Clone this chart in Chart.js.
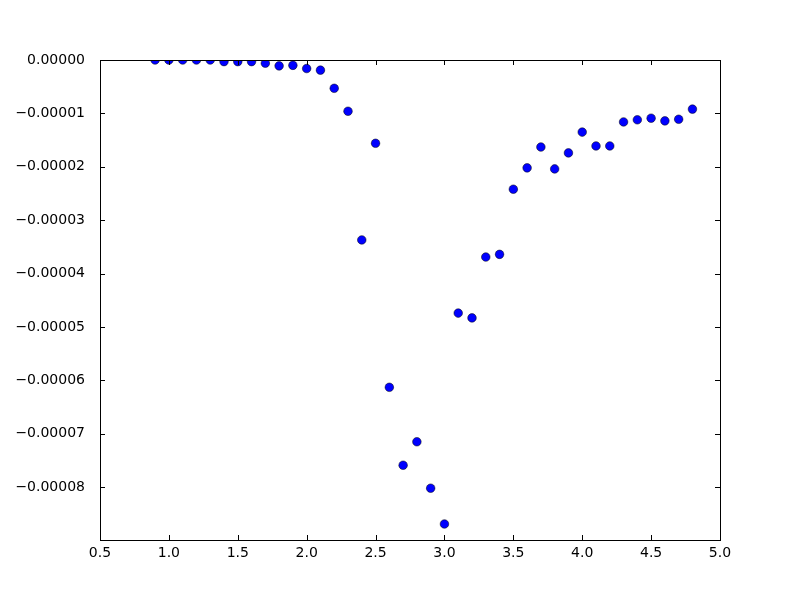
<!DOCTYPE html>
<html>
<head>
<meta charset="utf-8">
<script src="https://cdn.jsdelivr.net/npm/chart.js@4/dist/chart.umd.min.js"></script>
<style>
  html, body { margin: 0; padding: 0; background: #fff; }
  #wrap { width: 800px; height: 600px; }
</style>
</head>
<body>
<div id="wrap"><canvas id="chart" width="800" height="600"></canvas></div>
<script>
var xValues = [0.9,1.0,1.1,1.2,1.3,1.4,1.5,1.6,1.7,1.8,1.9,2.0,2.1,2.2,2.3,2.4,2.5,2.6,2.7,2.8,
               2.9,3.0,3.1,3.2,3.3,3.4,3.5,3.6,3.7,3.8,3.9,4.0,4.1,4.2,4.3,4.4,4.5,4.6,4.7,4.8];
var yValues = [0,0,0,0,0,-0.0000003,-0.0000003,-0.0000003,-0.0000006,-0.0000011,
               -0.0000010,-0.0000016,-0.0000019,-0.0000053,-0.0000096,-0.0000337,-0.0000156,-0.0000613,-0.0000759,-0.0000715,
               -0.0000802,-0.0000869,-0.0000474,-0.0000483,-0.0000369,-0.0000364,-0.0000242,-0.0000202,-0.0000163,-0.0000204,
               -0.0000174,-0.0000135,-0.0000161,-0.0000161,-0.0000116,-0.0000112,-0.0000109,-0.0000114,-0.0000111,-0.0000092];
var xTicks = [0.5,1.0,1.5,2.0,2.5,3.0,3.5,4.0,4.5,5.0];
var yTicks = [0,-0.00001,-0.00002,-0.00003,-0.00004,-0.00005,-0.00006,-0.00007,-0.00008];

var points = xValues.map(function(x, i) { return {x: x, y: yValues[i]}; });

// frame + inward ticks on all four sides, like classic matplotlib
var frameTicks = {
  id: 'frameTicks',
  afterDraw: function(chart) {
    var ctx = chart.ctx, a = chart.chartArea;
    var xs = chart.scales.x, ys = chart.scales.y;
    ctx.save();
    ctx.strokeStyle = '#000';
    ctx.lineWidth = 1;
    ctx.beginPath();
    xTicks.forEach(function(v) {
      var px = Math.round(xs.getPixelForValue(v)) + 0.5;
      ctx.moveTo(px, a.bottom); ctx.lineTo(px, a.bottom - 5);
      ctx.moveTo(px, a.top); ctx.lineTo(px, a.top + 5);
    });
    yTicks.forEach(function(v) {
      var py = Math.round(ys.getPixelForValue(v)) + 0.5;
      ctx.moveTo(a.left, py); ctx.lineTo(a.left + 5, py);
      ctx.moveTo(a.right, py); ctx.lineTo(a.right - 5, py);
    });
    ctx.stroke();
    ctx.strokeRect(Math.round(a.left) + 0.5, Math.round(a.top) + 0.5,
                   Math.round(a.right - a.left), Math.round(a.bottom - a.top));
    ctx.restore();
  }
};

new Chart(document.getElementById('chart'), {
  type: 'scatter',
  data: {
    datasets: [{
      data: points,
      backgroundColor: '#0000ff',
      borderColor: '#000000',
      borderWidth: 0.5,
      pointRadius: 4.3,
      pointHoverRadius: 4.3
    }]
  },
  options: {
    responsive: false,
    animation: false,
    layout: {padding: {top: 60, right: 80, left: 0, bottom: 0}},
    plugins: {legend: {display: false}, tooltip: {enabled: false}},
    scales: {
      x: {
        type: 'linear',
        min: 0.5, max: 5.0,
        afterBuildTicks: function(s) { s.ticks = xTicks.map(function(v) { return {value: v}; }); },
        afterFit: function(s) { s.height = 60; },
        grid: {display: false},
        border: {display: false},
        ticks: {
          color: '#000', padding: -3,
          font: {family: 'DejaVu Sans', size: 14},
          maxRotation: 0,
          callback: function(v) { return Number(v).toFixed(1); }
        }
      },
      y: {
        type: 'linear',
        min: -0.0000899, max: 0,
        afterBuildTicks: function(s) { s.ticks = yTicks.map(function(v) { return {value: v}; }); },
        afterFit: function(s) { s.width = 100; },
        grid: {display: false},
        border: {display: false},
        ticks: {
          color: '#000', padding: 7,
          font: {family: 'DejaVu Sans', size: 14},
          callback: function(v) {
            var s = Math.abs(v).toFixed(5);
            return (v < -1e-12 ? '\u2212' : '') + s;
          }
        }
      }
    }
  },
  plugins: [frameTicks]
});
</script>
</body>
</html>
